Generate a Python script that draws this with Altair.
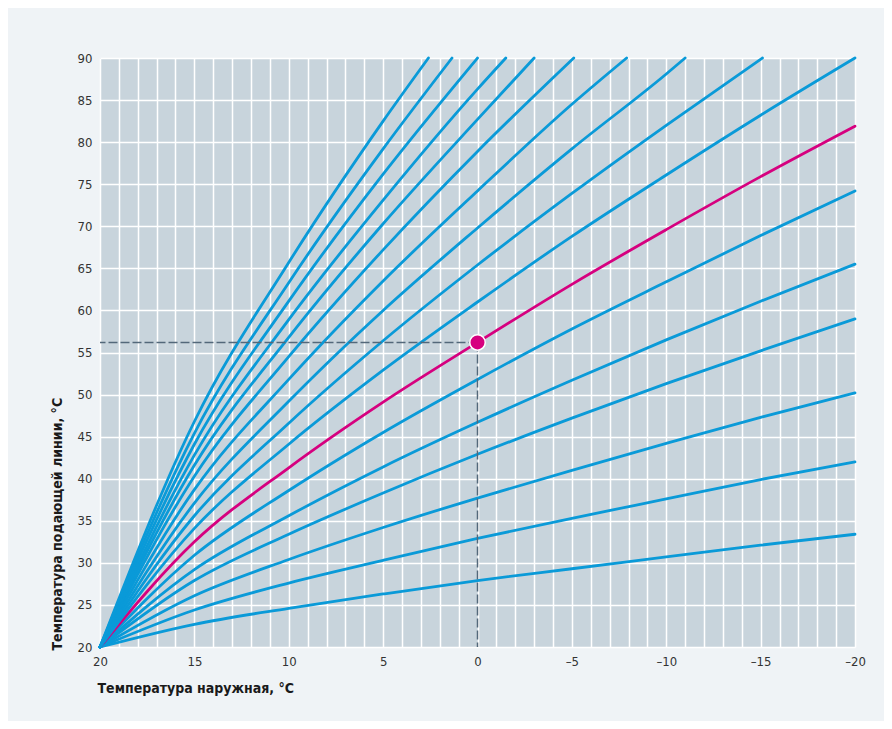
import altair as alt
import pandas as pd

# Outdoor temperature sample points (°C)
X_FULL = [20, 15, 10, 5, 0, -5, -10, -15, -20]

# Heating curves: flow temperature (°C)
c01_y = [20, 22.7, 24.6, 26.3, 27.9, 29.3, 30.7, 32.1, 33.4]
c02_y = [20, 24.4, 27.6, 30.3, 32.9, 35.3, 37.6, 39.9, 42.0]
c03_y = [20, 26.1, 30.4, 34.2, 37.7, 41.0, 44.2, 47.3, 50.2]
c04_y = [20, 27.9, 33.4, 38.3, 42.9, 47.2, 51.3, 55.2, 59.0]
c05_y = [20, 29.2, 35.6, 41.4, 46.7, 51.7, 56.5, 61.1, 65.5]
c06_y = [20, 30.9, 38.6, 45.5, 51.8, 57.8, 63.4, 68.9, 74.2]
pink_y = [20, 32.5, 41.3, 49.1, 56.2, 63.1, 69.6, 75.9, 81.9]
c08_y = [20, 34.1, 44.1, 52.9, 61.0, 68.8, 76.1, 83.2, 90.0]

c09_x = [20, 15, 10, 5, 0, -5, -10, -15.1]
c09_y = [20, 35.6, 46.6, 56.4, 65.4, 73.9, 82.0, 90.0]
c10_x = [20, 15, 10, 5, 0, -5, -10, -11.0]
c10_y = [20, 37.1, 49.2, 60.0, 69.8, 79.2, 88.1, 90.0]
c11_x = [20, 15, 10, 5, 0, -5, -7.9]
c11_y = [20, 38.7, 51.8, 63.5, 74.2, 84.5, 90.0]
c12_x = [20, 15, 10, 5, 0, -5.1]
c12_y = [20, 40.3, 54.5, 67.2, 78.9, 90.0]
c13_x = [20, 15, 10, 5, 0, -3.0]
c13_y = [20, 41.6, 56.8, 70.3, 82.7, 90.0]
c14_x = [20, 15, 10, 5, 0, -1.5]
c14_y = [20, 42.8, 58.9, 73.1, 86.3, 90.0]
c15_x = [20, 15, 10, 5, 0.0]
c15_y = [20, 44.1, 61.1, 76.2, 90.0]
c16_x = [20, 15, 10, 5, 1.35]
c16_y = [20, 45.4, 63.3, 79.2, 90.0]
c17_x = [20, 15, 10, 5, 2.6]
c17_y = [20, 46.8, 65.7, 82.5, 90.0]

# Marked operating point
point_x = [0]
point_y = [56.2]

X_TICKS = list(range(-20, 21))
Y_TICKS = list(range(20, 91, 5))

curves = [
    ("c01", X_FULL, c01_y, "blue"), ("c02", X_FULL, c02_y, "blue"),
    ("c03", X_FULL, c03_y, "blue"), ("c04", X_FULL, c04_y, "blue"),
    ("c05", X_FULL, c05_y, "blue"), ("c06", X_FULL, c06_y, "blue"),
    ("c07", X_FULL, pink_y, "pink"), ("c08", X_FULL, c08_y, "blue"),
    ("c09", c09_x, c09_y, "blue"), ("c10", c10_x, c10_y, "blue"),
    ("c11", c11_x, c11_y, "blue"), ("c12", c12_x, c12_y, "blue"),
    ("c13", c13_x, c13_y, "blue"), ("c14", c14_x, c14_y, "blue"),
    ("c15", c15_x, c15_y, "blue"), ("c16", c16_x, c16_y, "blue"),
    ("c17", c17_x, c17_y, "blue"),
]
rows = []
for name, xs, ys, kind in curves:
    for xv, yv in zip(xs, ys):
        rows.append({"curve": name, "x": xv, "y": yv, "kind": kind})
df = pd.DataFrame(rows)

FONT = "'DejaVu Sans Condensed', 'DejaVu Sans', sans-serif"
BLUE = "#0a9ad8"
PINK = "#d6007f"
GUIDE = "#53687a"

xscale = alt.Scale(domain=[20, -20], nice=False, zero=False)
yscale = alt.Scale(domain=[20, 90], nice=False, zero=False)

xaxis = alt.Axis(
    values=X_TICKS, grid=True, gridColor="white", gridWidth=1.5,
    ticks=False, domain=False, labelPadding=8, labelOverlap=False, labelFlush=False,
    labelExpr="datum.value % 5 == 0 ? (datum.value < 0 ? '–' + abs(datum.value) : datum.value) : ''",
    labelFont=FONT, labelFontSize=13, labelColor="#333333",
    title="Температура наружная, °C", titleFont=FONT, titleFontSize=14,
    titleFontWeight="bold", titleColor="#1a1a1a",
    titleAnchor="start", titleAlign="left", titleX=-3, titleY=41,
    titleBaseline="middle",
)
yaxis = alt.Axis(
    values=Y_TICKS, grid=True, gridColor="white", gridWidth=1.5,
    ticks=False, domain=False, labelPadding=8, labelOverlap=False, labelFlush=False,
    labelFont=FONT, labelFontSize=13, labelColor="#333333",
    title="Температура подающей линии, °C", titleFont=FONT, titleFontSize=14,
    titleFontWeight="bold", titleColor="#1a1a1a",
    titleAnchor="start", titleX=-43, titleY=592, titleAlign="left",
    titleBaseline="middle", titleAngle=270,
)

lines = alt.Chart(df).mark_line(strokeWidth=2.8, strokeCap="round", interpolate="monotone").encode(
    x=alt.X("x:Q", scale=xscale, axis=xaxis),
    y=alt.Y("y:Q", scale=yscale, axis=yaxis),
    detail="curve:N",
    color=alt.Color("kind:N", scale=alt.Scale(domain=["blue", "pink"], range=[BLUE, PINK]), legend=None),
    order=alt.Order("x:Q", sort="descending"),
)

pt = pd.DataFrame({"x": point_x, "y": point_y})
guide_h = alt.Chart(pt).mark_rule(color=GUIDE, strokeWidth=1.5, strokeDash=[9, 3]).encode(
    x=alt.X("x:Q", scale=xscale, axis=xaxis), x2=alt.datum(20),
    y=alt.Y("y:Q", scale=yscale, axis=yaxis),
)
guide_v = alt.Chart(pt).mark_rule(color=GUIDE, strokeWidth=1.5, strokeDash=[9, 3]).encode(
    x=alt.X("x:Q", scale=xscale, axis=xaxis),
    y=alt.Y("y:Q", scale=yscale, axis=yaxis), y2=alt.datum(20),
)
dot = alt.Chart(pt).mark_point(filled=True, size=240, color=PINK, stroke="white", strokeWidth=1.5, opacity=1).encode(
    x=alt.X("x:Q", scale=xscale, axis=xaxis),
    y=alt.Y("y:Q", scale=yscale, axis=yaxis),
)

chart = alt.layer(lines, guide_h, guide_v, dot).properties(
    width=755, height=589,
    autosize=alt.AutoSizeParams(type="none"),
    padding={"left": 92, "top": 50, "right": 29, "bottom": 74},
    background="#eff3f6",
).configure_view(fill="#c8d4dc", stroke=None)

chart.save("out.html", embed_options={"renderer": "svg", "actions": False})
